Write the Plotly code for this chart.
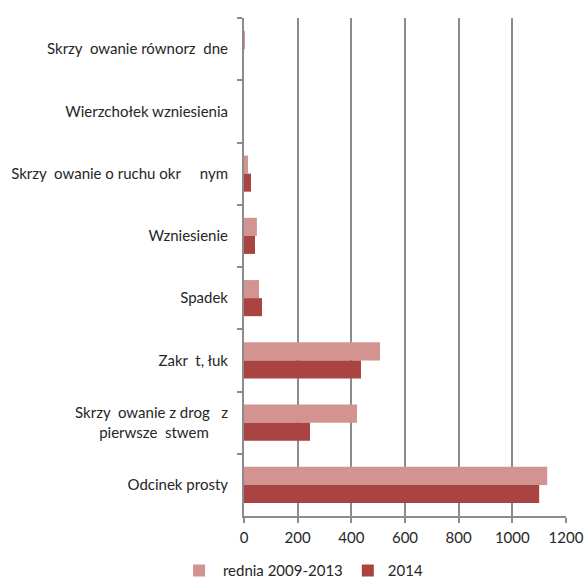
import plotly.graph_objects as go

categories = [
    "Skrzy  owanie równorz  dne",
    "Wierzchołek wzniesienia",
    "Skrzy  owanie o ruchu okr     nym",
    "Wzniesienie",
    "Spadek",
    "Zakr  t, łuk",
    "Skrzy  owanie z drog   z<br>pierwsze  stwem&nbsp;&nbsp;&nbsp;&nbsp;&nbsp;",
    "Odcinek prosty",
]
series_names = [" rednia 2009-2013", "2014"]
avg_2009_2013 = [2, 0, 15, 48, 56, 507, 421, 1130]
values_2014 = [0, 0, 26, 41, 67, 436, 246, 1100]
x_ticks = [0, 200, 400, 600, 800, 1000, 1200]

light = "#D39391"
dark = "#A94442"
grid = "#8C8C8C"
font = "Lato"

fig = go.Figure()
fig.add_trace(go.Bar(y=categories, x=avg_2009_2013, orientation="h", name=series_names[0],
                     marker=dict(color=light, line=dict(width=0))))
fig.add_trace(go.Bar(y=categories, x=values_2014, orientation="h", name=series_names[1],
                     marker=dict(color=dark, line=dict(width=0))))

fig.update_layout(
    width=587, height=579,
    paper_bgcolor="white", plot_bgcolor="white",
    margin=dict(l=244, r=21, t=18, b=63, autoexpand=False),
    barmode="group", bargap=0.42, bargroupgap=0,
    font=dict(family=font, size=15, color="#262626"),
    legend=dict(orientation="h", x=0.185, xanchor="center", y=-0.077, yanchor="top",
                font=dict(size=15), itemwidth=30, traceorder="normal"),
    xaxis=dict(range=[0, 1200], tickvals=x_ticks, showgrid=True, gridcolor=grid, gridwidth=2,
               showline=True, linecolor=grid, linewidth=2, ticks="outside", ticklen=5,
               tickcolor=grid, tickwidth=2, zeroline=False, tickfont=dict(size=15),
               automargin=False, ticklabelstandoff=2),
    yaxis=dict(autorange="reversed", showline=True, linecolor=grid, linewidth=2,
               ticks="outside", ticklen=5, tickcolor=grid, tickwidth=2, tickson="boundaries",
               showgrid=False, tickfont=dict(size=15), automargin=False,
               ticklabelstandoff=11),
)

fig.write_html("out.html", config={"displayModeBar": False},
               post_script="document.body.style.margin='0';")
